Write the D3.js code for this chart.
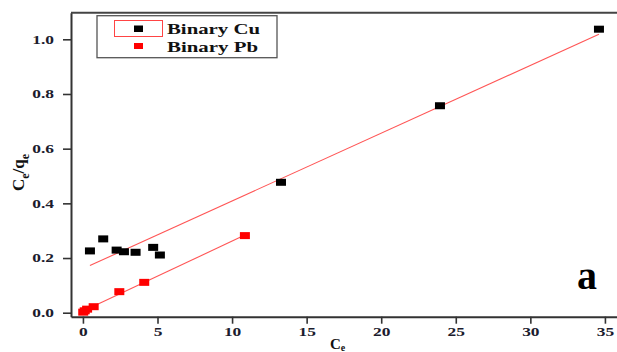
<!DOCTYPE html>
<html><head><meta charset="utf-8">
<script src="https://cdn.jsdelivr.net/npm/d3@7"></script>
<style>
html,body{margin:0;padding:0;background:#fff;}
svg{display:block;}
text{font-family:"Liberation Serif","Times New Roman",serif;font-weight:bold;}
</style></head>
<body>
<svg id="c" width="617" height="352"></svg>
<script>
// Data
const seriesNames = ["Binary Cu", "Binary Pb"];
const cuCe = [0.47, 1.36, 2.26, 2.75, 3.53, 4.71, 5.16, 13.28, 23.94, 34.6];
const cuCeQe = [0.226, 0.270, 0.229, 0.223, 0.221, 0.239, 0.211, 0.477, 0.757, 1.037];
const pbCe = [0.02, 0.12, 0.28, 0.72, 2.44, 4.11, 10.86];
const pbCeQe = [0.002, 0.007, 0.013, 0.022, 0.077, 0.111, 0.282];
const xTicks = [0, 5, 10, 15, 20, 25, 30, 35];
const yTicks = [0.0, 0.2, 0.4, 0.6, 0.8, 1.0];

const svg = d3.select("#c");
svg.append("rect").attr("width", 617).attr("height", 352).attr("fill", "#fff");

const x = d3.scaleLinear().domain([-0.8, 36.3]).range([71, 71 + 37.1 * 14.914]);
const y = d3.scaleLinear().domain([-0.0146, 1.0973]).range([316.7, 12.7]);

const STRETCH = 1.45;
function stretchText(sel, f) {
  sel.each(function () {
    const w = this.getComputedTextLength();
    d3.select(this).attr("textLength", w * f).attr("lengthAdjust", "spacingAndGlyphs");
  });
}

// frame (top + right)
svg.append("line").attr("x1", x.range()[0]).attr("x2", x.range()[1])
  .attr("y1", 12.7).attr("y2", 12.7).attr("stroke", "#444").attr("stroke-width", 2);
svg.append("line").attr("x1", x.range()[1]).attr("x2", x.range()[1])
  .attr("y1", 12.7).attr("y2", 316.7).attr("stroke", "#444").attr("stroke-width", 2);

// axes
const gx = svg.append("g").attr("transform", "translate(0,316.7)")
  .call(d3.axisBottom(x).tickValues(xTicks).tickFormat(d3.format("d")).tickSize(7).tickPadding(4).tickSizeOuter(0));
const gy = svg.append("g").attr("transform", "translate(71,0)")
  .call(d3.axisLeft(y).tickValues(yTicks).tickFormat(d3.format(".1f")).tickSize(8).tickPadding(9).tickSizeOuter(0));
[gx, gy].forEach(g => {
  g.select(".domain").attr("stroke", "#333").attr("stroke-width", 2);
  g.selectAll(".tick line").attr("stroke", "#333").attr("stroke-width", 1.6);
  g.selectAll(".tick text").attr("font-family", "Liberation Serif").attr("font-weight", "bold")
    .attr("font-size", 12).attr("fill", "#1c1c2e");
});
stretchText(gx.selectAll(".tick text"), STRETCH);
stretchText(gy.selectAll(".tick text"), STRETCH);

// regression lines
function fit(xs, ys) {
  const mx = d3.mean(xs), my = d3.mean(ys);
  const sxy = d3.sum(xs, (v, i) => (v - mx) * (ys[i] - my));
  const sxx = d3.sum(xs, v => (v - mx) * (v - mx));
  const b = sxy / sxx;
  return { a: my - b * mx, b };
}
const line = d3.line().x(d => x(d[0])).y(d => y(d[1]));
[[cuCe, cuCeQe], [pbCe, pbCeQe]].forEach(([xs, ys]) => {
  const f = fit(xs, ys);
  const ext = d3.extent(xs);
  svg.append("path").attr("d", line(ext.map(v => [v, f.a + f.b * v])))
    .attr("fill", "none").attr("stroke", "#ff5555").attr("stroke-width", 1.1);
});

// markers
const MW = 10, MH = 7;
function drawPts(xs, ys, color) {
  svg.append("g").selectAll("rect").data(xs.map((v, i) => [v, ys[i]])).join("rect")
    .attr("x", d => x(d[0]) - MW / 2).attr("y", d => y(d[1]) - MH / 2)
    .attr("width", MW).attr("height", MH).attr("fill", color);
}
drawPts(pbCe, pbCeQe, "#ff0000");
drawPts(cuCe, cuCeQe, "#000000");

// legend
const lg = svg.append("g");
lg.append("rect").attr("x", 97).attr("y", 15.7).attr("width", 180).attr("height", 42)
  .attr("fill", "#fff").attr("stroke", "#555").attr("stroke-width", 1.3);
lg.append("rect").attr("x", 114.5).attr("y", 20.5).attr("width", 48).attr("height", 16)
  .attr("fill", "none").attr("stroke", "#ff4444").attr("stroke-width", 1);
lg.append("rect").attr("x", 134).attr("y", 25.5).attr("width", 9).attr("height", 6.5).attr("fill", "#000");
lg.append("rect").attr("x", 134).attr("y", 43).attr("width", 9).attr("height", 6).attr("fill", "#ff0000");
const lt1 = lg.append("text").attr("x", 167).attr("y", 34).attr("font-size", 15).attr("fill", "#111").text(seriesNames[0]);
const lt2 = lg.append("text").attr("x", 167).attr("y", 51.7).attr("font-size", 15).attr("fill", "#111").text(seriesNames[1]);
lt1.attr("textLength", 93).attr("lengthAdjust", "spacingAndGlyphs");
lt2.attr("textLength", 91).attr("lengthAdjust", "spacingAndGlyphs");

// axis titles
const xt = svg.append("text").attr("x", 330).attr("y", 348.5).attr("font-size", 15).attr("fill", "#111");
xt.append("tspan").text("C");
xt.append("tspan").attr("font-size", 10).attr("dy", 2).text("e");

const yt = svg.append("text").attr("transform", "translate(24,191) rotate(-90)")
  .attr("font-size", 17).attr("fill", "#111");
yt.append("tspan").text("C");
yt.append("tspan").attr("font-size", 12).attr("dy", 5).text("e");
yt.append("tspan").attr("dy", -5).text("/q");
yt.append("tspan").attr("font-size", 12).attr("dy", 5).text("e");

// panel letter
svg.append("text").attr("x", 577).attr("y", 289).attr("font-size", 40).attr("fill", "#000").text("a");
</script>
</body></html>
